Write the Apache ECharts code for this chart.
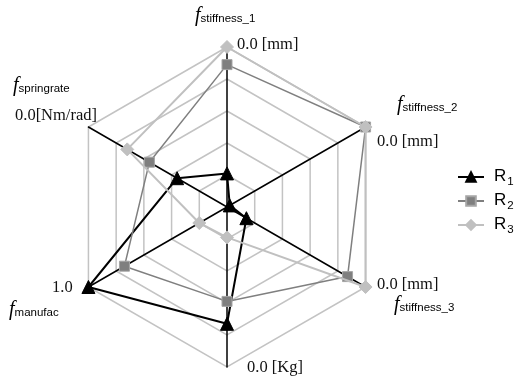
<!DOCTYPE html>
<html>
<head>
<meta charset="utf-8">
<script src="https://cdn.jsdelivr.net/npm/echarts@6/dist/echarts.min.js"></script>
<style>
html,body{margin:0;padding:0;background:#fff;}
#chart{width:516px;height:377px;}
</style>
</head>
<body>
<div id="chart"></div>
<script>
// Axes in ECharts order (counter-clockwise from top)
const axisKeys = ['stiffness_1', 'springrate', 'manufac', 'Kg', 'stiffness_3', 'stiffness_2'];
const axisSubscripts = ['stiffness_1', 'springrate', 'manufac', '', 'stiffness_3', 'stiffness_2'];
const axisValueLabels = ['0.0 [mm]', '0.0[Nm/rad]', '1.0', '0.0 [Kg]', '0.0 [mm]', '0.0 [mm]'];
const seriesNames = ['R1', 'R2', 'R3'];
const legendSubs = ['1', '2', '3'];
// values as fraction of the axis (0 = centre, 1 = outer ring)
const r1Values = [0.21, 0.36, 1.00, 0.73, 0.14, 0.02];
const r2Values = [0.89, 0.56, 0.74, 0.59, 0.87, 1.00];
const r3Values = [1.00, 0.72, 0.20, 0.19, 1.00, 1.00];

const chart = echarts.init(document.getElementById('chart'), null, {renderer: 'canvas'});

const serif = '"Liberation Serif","Times New Roman",serif';
const sans = '"Liberation Sans",Arial,sans-serif';

const styles = [
  {color: '#000000', width: 2, symbol: 'triangle', size: 13, border: '#000000'},
  {color: '#7f7f7f', width: 1.5, symbol: 'rect', size: 10, border: '#a5a5a5'},
  {color: '#c0c0c0', width: 2, symbol: 'diamond', size: 13, border: '#c0c0c0'}
];
const allValues = [r1Values, r2Values, r3Values];

// label placements (pixel) for names and value labels, per axis index
const namePos = [[195, 18], [13, 88], [9, 312], null, [394, 307], [397, 107]];
const valuePos = [[237, 45], [15, 116], [52, 288], [247, 368], [377, 285], [377, 142]];

const graphics = [];
axisKeys.forEach((k, i) => {
  if (namePos[i] && axisSubscripts[i]) {
    graphics.push({
      type: 'text', left: namePos[i][0], top: namePos[i][1] - 12, z: 10,
      style: {
        text: '{f|f}{s|' + axisSubscripts[i] + '}',
        rich: {
          f: {fontFamily: serif, fontStyle: 'italic', fontSize: 20, fill: '#000', verticalAlign: 'bottom'},
          s: {fontFamily: sans, fontSize: 11.5, fill: '#000', verticalAlign: 'bottom', padding: [0, 0, 1, 0]}
        }
      }
    });
  }
  graphics.push({
    type: 'text', left: valuePos[i][0], top: valuePos[i][1] - 9, z: 10,
    style: {text: axisValueLabels[i], fontFamily: serif, fontSize: 16.5, fill: '#111'}
  });
});

const lineSeries = seriesNames.map((n, i) => ({
  name: n, type: 'line', xAxisIndex: 0, yAxisIndex: 0, data: [],
  symbol: styles[i].symbol, symbolSize: styles[i].size,
  lineStyle: {color: styles[i].color, width: styles[i].width},
  itemStyle: {color: styles[i].color, borderColor: styles[i].border, borderWidth: 1}
}));

const radarSeries = seriesNames.map((n, i) => ({
  name: n, type: 'radar', radarIndex: 0, z: 2 + i,
  symbol: styles[i].symbol, symbolSize: styles[i].size,
  lineStyle: {color: styles[i].color, width: styles[i].width},
  itemStyle: {color: styles[i].color, borderColor: styles[i].border, borderWidth: 1},
  data: [{name: n, value: allValues[i]}]
}));

chart.setOption({
  animation: false,
  backgroundColor: '#ffffff',
  grid: {left: -100, top: -100, width: 10, height: 10, show: false},
  xAxis: {type: 'value', show: false},
  yAxis: {type: 'value', show: false},
  legend: {
    orient: 'vertical', left: 457, top: 168, padding: 0,
    itemWidth: 26, itemHeight: 12, itemGap: 4,
    data: seriesNames,
    formatter: function (name) {
      const i = seriesNames.indexOf(name);
      return '{r|R}{s|' + legendSubs[i] + '}';
    },
    textStyle: {
      lineHeight: 16,
      rich: {
        r: {fontFamily: sans, fontSize: 17, color: '#000', verticalAlign: 'bottom', lineHeight: 16, padding: [0, 0, 0, 5]},
        s: {fontFamily: sans, fontSize: 11.5, color: '#000', verticalAlign: 'bottom', lineHeight: 16, padding: [0, 0, -3, 1]}
      }
    }
  },
  radar: {
    center: [227, 207],
    radius: 160,
    startAngle: 90,
    splitNumber: 5,
    shape: 'polygon',
    indicator: axisKeys.map(k => ({name: k, min: 0, max: 1})),
    axisName: {show: false},
    splitArea: {show: false},
    splitLine: {lineStyle: {color: '#c3c3c3', width: 1.5}},
    axisLine: {lineStyle: {color: '#000000', width: 1.5}},
    axisTick: {show: false},
    axisLabel: {show: false}
  },
  graphic: graphics,
  series: lineSeries.concat(radarSeries)
});
</script>
</body>
</html>
